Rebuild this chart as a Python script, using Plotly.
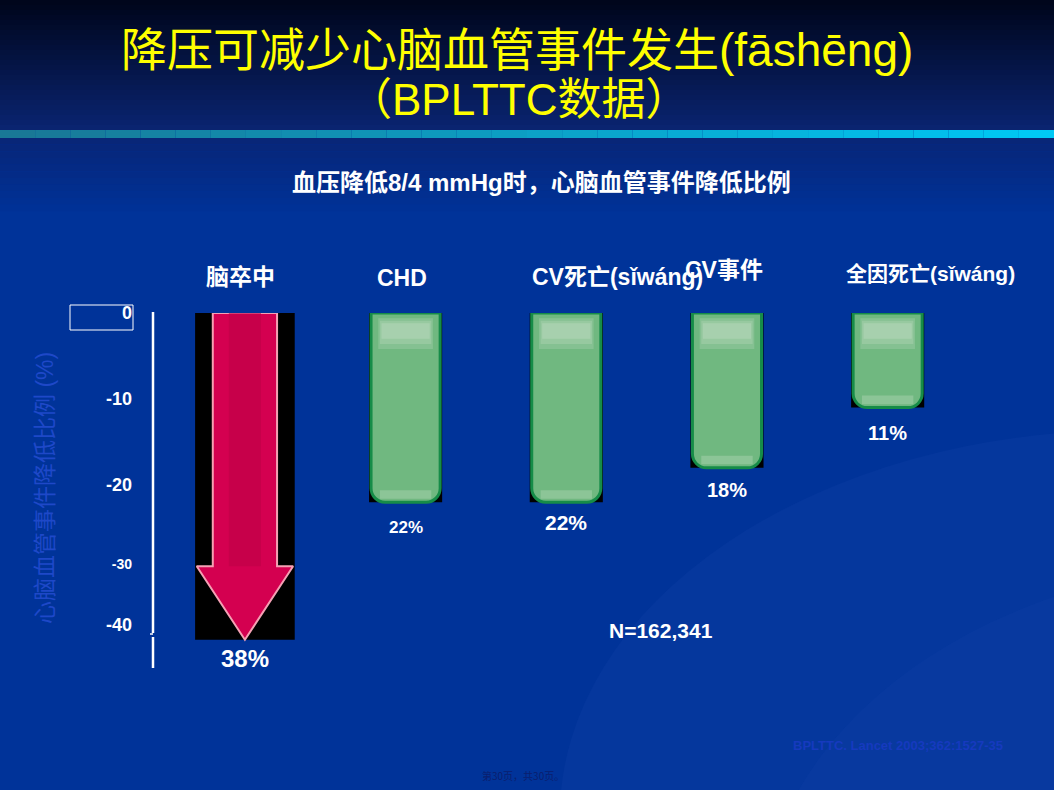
import plotly.graph_objects as go

# data
categories = ["脑卒中", "CHD", "CV死亡(sǐwáng)", "CV事件", "全因死亡(sǐwáng)"]
reduction = [38, 22, 22, 18, 11]          # % reduction
value_labels = ["38%", "22%", "22%", "18%", "11%"]
tick_vals = [0, -10, -20, -29, -36.3]
tick_text = ["0", "-10", "-20", "-30", "-40"]
sample_note = "N=162,341"
source_note = "BPLTTC. Lancet 2003;362:1527-35"

W, H = 1054, 790
L, R, T, B = 153, 968, 313, 665   # plot area in pixels


def px(x):
    return (x - L) / (R - L)


def py(y):
    return (B - y) / (B - T)


xs = list(range(len(categories)))
neg = [-v for v in reduction]

fig = go.Figure()

# black backing boxes
fig.add_trace(go.Bar(
    x=xs, y=neg, width=[0.62, 0.455, 0.455, 0.455, 0.455],
    marker=dict(color="black", line_width=0), hoverinfo="skip"))

# green glossy bars
fig.add_trace(go.Bar(
    x=xs[1:], y=neg[1:], width=0.43,
    marker=dict(color="rgb(112,184,128)", cornerradius=14,
                line=dict(color="rgb(22,140,72)", width=3)),
    hoverinfo="skip"))

# red down arrow for stroke
v = reduction[0]
head_y = -v * 0.775
ax = [-0.2, 0.2, 0.2, 0.3, 0, -0.3, -0.2, -0.2]
ay = [0, 0, head_y, head_y, -v, head_y, head_y, 0]
fig.add_trace(go.Scatter(
    x=ax, y=ay, fill="toself", mode="lines",
    fillcolor="rgb(212,0,80)", line=dict(color="rgb(245,160,180)", width=2),
    hoverinfo="skip"))
# darker core of the shaft
fig.add_trace(go.Scatter(
    x=[-0.1, 0.1, 0.1, -0.1, -0.1], y=[0, 0, head_y, head_y, 0], fill="toself",
    mode="none", fillcolor="rgba(190,0,70,0.6)", hoverinfo="skip"))

shapes = []
# header gradient
n = 26
for i in range(n):
    t = i / (n - 1)
    c = (int(0 + 10 * t), int(6 + 30 * t), int(28 + 84 * t))
    shapes.append(dict(type="rect", xref="paper", yref="paper",
                       x0=px(0), x1=px(W), y0=py(130 * i / n), y1=py(130 * (i + 1) / n),
                       fillcolor="rgb(%d,%d,%d)" % c, line_width=0, layer="below"))
# cyan stripe
m = 30
for i in range(m):
    t = i / (m - 1)
    c = (int(25 - 25 * t), int(120 + 80 * t), int(150 + 95 * t))
    shapes.append(dict(type="rect", xref="paper", yref="paper",
                       x0=px(W * i / m), x1=px(W * (i + 1) / m), y0=py(130), y1=py(138),
                       fillcolor="rgb(%d,%d,%d)" % c, line_width=0, layer="below"))
# body fade below stripe
k = 12
for i in range(k):
    t = i / (k - 1)
    c = (int(8 - 8 * t), int(38 + 13 * t), int(120 + 33 * t))
    shapes.append(dict(type="rect", xref="paper", yref="paper",
                       x0=px(0), x1=px(W), y0=py(138 + 80 * i / k), y1=py(138 + 80 * (i + 1) / k),
                       fillcolor="rgb(%d,%d,%d)" % c, line_width=0, layer="below"))
# faint swooshes
shapes.append(dict(type="circle", xref="paper", yref="paper",
                   x0=px(560), x1=px(1700), y0=py(430), y1=py(1200),
                   fillcolor="rgba(70,110,210,0.07)", line_width=0, layer="below"))
shapes.append(dict(type="circle", xref="paper", yref="paper",
                   x0=px(760), x1=px(1800), y0=py(560), y1=py(1300),
                   fillcolor="rgba(70,110,210,0.06)", line_width=0, layer="below"))
# glossy highlight at the top of each green bar (soft, layered)
for i in xs[1:]:
    for j, a in enumerate([0.18, 0.18, 0.2]):
        shapes.append(dict(type="rect", xref="x", yref="y",
                           x0=i - 0.17 + 0.01 * j, x1=i + 0.17 - 0.01 * j,
                           y0=-0.6 - 0.3 * j, y1=-4.2 + 0.6 * j,
                           fillcolor="rgba(235,240,230,%.2f)" % a, line_width=0))
    shapes.append(dict(type="rect", xref="x", yref="y", x0=i - 0.16, x1=i + 0.16,
                       y0=neg[i] + 0.4, y1=neg[i] + 1.4, fillcolor="rgba(225,235,220,0.25)",
                       line_width=0))
# axis line with small break
shapes.append(dict(type="line", xref="paper", yref="paper", x0=px(153), x1=px(153),
                   y0=py(312), y1=py(633), line=dict(color="white", width=2.5)))
shapes.append(dict(type="line", xref="paper", yref="paper", x0=px(150), x1=px(153),
                   y0=py(634), y1=py(634), line=dict(color="white", width=1.5)))
shapes.append(dict(type="line", xref="paper", yref="paper", x0=px(153), x1=px(153),
                   y0=py(637), y1=py(668), line=dict(color="white", width=2.5)))
# box round the zero label
shapes.append(dict(type="rect", xref="paper", yref="paper", x0=px(70), x1=px(133),
                   y0=py(330), y1=py(305), line=dict(color="white", width=1)))

latin = "Liberation Sans, Noto Sans CJK SC"
ann = []
ann.append(dict(text="降压可减少心脑血管事件发生(fāshēng)", x=px(517), y=py(50),
                font=dict(size=46, color="#ffff00", family=latin)))
ann.append(dict(text="（BPLTTC数据）", x=px(518), y=py(100),
                font=dict(size=44, color="#ffff00", family=latin)))
ann.append(dict(text="<b>血压降低8/4 mmHg时，心脑血管事件降低比例</b>", x=px(541), y=py(182),
                font=dict(size=24, color="white", family=latin)))
ann.append(dict(text="心脑血管事件降低比例 (%)", x=px(45), y=py(488), textangle=-90,
                font=dict(size=23, color="rgb(30,72,200)", family=latin)))

label_pos = [(240, 277, 23), (402, 278, 23), (617, 277, 23), (724, 270, 23), (930, 273, 21)]
for i, (lx, ly, ls) in enumerate(label_pos):
    ann.append(dict(text="<b>%s</b>" % categories[i], x=px(lx), y=py(ly),
                    font=dict(size=ls, color="white", family=latin)))

val_style = [(19, 24), (25, 17), (20, 21), (22, 20), (25, 20)]
for i, (off, fs) in enumerate(val_style):
    ann.append(dict(text="<b>%s</b>" % value_labels[i], xref="x", yref="y", x=xs[i], y=neg[i],
                    yshift=-off, font=dict(size=fs, color="white", family=latin)))

ann.append(dict(text="<b>%s</b>" % sample_note, x=px(661), y=py(630),
                font=dict(size=21, color="white", family=latin)))
ann.append(dict(text="<b>%s</b>" % source_note, x=px(898), y=py(745),
                font=dict(size=13, color="rgb(22,58,190)", family=latin)))
ann.append(dict(text="第30页，共30页。", x=px(523), y=py(775),
                font=dict(size=10, color="rgb(10,30,110)", family="Noto Sans CJK SC")))

for a in ann:
    a.setdefault("xref", "paper")
    a.setdefault("yref", "paper")
    a["xanchor"] = "center"
    a["yanchor"] = "middle"
    a["showarrow"] = False

tick_labels = []
for t in tick_text:
    if t == "-30":
        tick_labels.append('<b><span style="font-size:14px">%s</span></b>' % t)
    else:
        tick_labels.append("<b>%s</b>" % t)

fig.update_layout(
    width=W, height=H,
    margin=dict(l=L, r=W - R, t=T, b=H - B, pad=0),
    paper_bgcolor="rgb(0,51,153)",
    plot_bgcolor="rgba(0,0,0,0)",
    barmode="overlay",
    showlegend=False,
    shapes=shapes,
    annotations=ann,
    font=dict(family=latin, color="white"),
    xaxis=dict(range=[-0.572, 4.5], showgrid=False, zeroline=False,
               showticklabels=False, showline=False, fixedrange=True),
    yaxis=dict(range=[-(B - T) / 8.6, 0], showgrid=False, zeroline=False,
               showline=False, tickvals=tick_vals, ticktext=tick_labels,
               ticks="", ticklabelstandoff=20,
               tickfont=dict(size=18, color="white", family=latin), fixedrange=True),
)

# page margin off so the slide fills the window
fig.write_html("out.html", config={"displayModeBar": False},
               post_script="document.body.style.margin='0';")
